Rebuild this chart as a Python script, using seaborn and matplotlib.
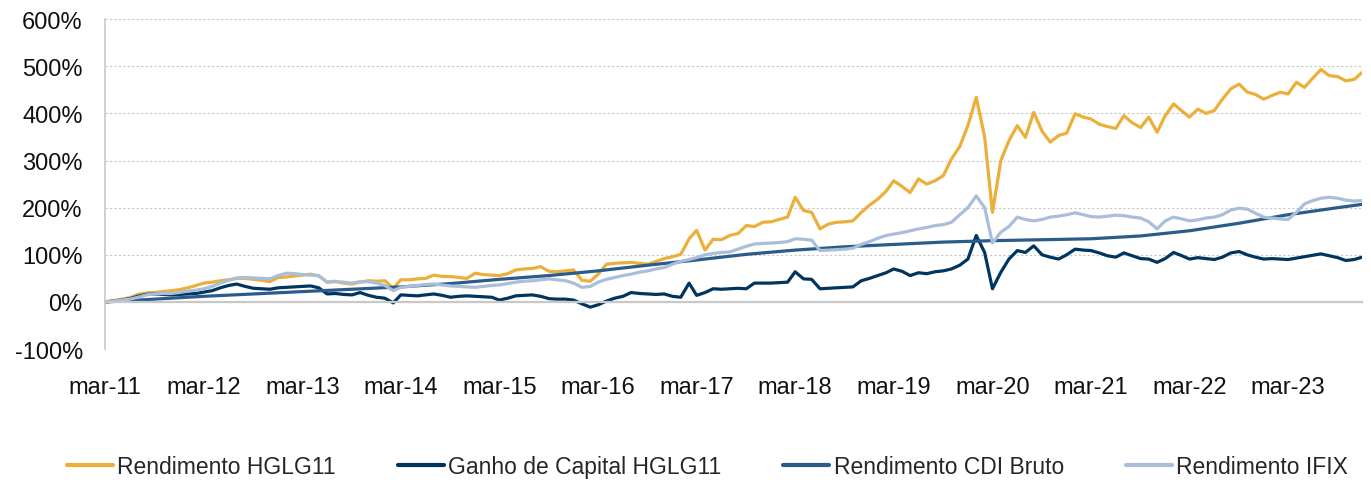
import pandas as pd
import matplotlib.pyplot as plt
import matplotlib.ticker as mticker
import seaborn as sns


# -------------------------------
# Data (monthly, mar-11 .. dez-23), values in %
# -------------------------------

months = pd.date_range("2011-03-01", "2023-12-01", freq="MS")

rend_hglg = [
    0, 3, 6, 9, 16, 19, 20, 22, 24, 26,                      # 2011
    30, 35, 40, 42, 45, 47, 50, 50, 48, 46, 43, 52,          # 2012
    53, 55, 57, 59, 55, 42, 44, 40, 38, 42, 45, 44,          # 2013
    45, 29, 47, 47, 49, 50, 57, 54, 54, 52, 50, 61,          # 2014
    58, 57, 56, 60, 68, 70, 71, 75, 65, 64, 66, 68,          # 2015
    46, 44, 59, 80, 82, 83, 84, 82, 80, 86, 92, 96,          # 2016
    101, 134, 152, 110, 133, 132, 141, 145, 162, 160, 169, 170,  # 2017
    175, 180, 222, 194, 190, 155, 165, 169, 170, 172, 190, 205,  # 2018
    218, 235, 257, 245, 232, 261, 250, 257, 268, 303, 330, 374,  # 2019
    434, 350, 190, 300, 342, 374, 349, 402, 362, 339, 353, 358,  # 2020
    399, 392, 388, 377, 372, 368, 395, 380, 370, 392, 360, 395,  # 2021
    420, 405, 392, 409, 400, 406, 430, 452, 462, 445, 440, 430,  # 2022
    438, 445, 441, 466, 455, 475, 493, 480, 478, 469, 472, 487,  # 2023
]

ganho_hglg = [
    0, 2, 4, 7, 12, 16, 17, 16, 15, 16,
    17, 18, 21, 24, 30, 35, 38, 33, 29, 28, 27, 30,
    31, 32, 33, 34, 30, 17, 18, 16, 15, 20, 14, 10,
    8, -2, 15, 14, 13, 15, 17, 14, 10, 12, 13, 12,
    11, 10, 4, 8, 13, 14, 15, 12, 7, 6, 6, 4,
    -4, -11, -6, 2, 8, 12, 20, 18, 17, 16, 17, 12,
    10, 40, 14, 20, 28, 27, 28, 29, 28, 40, 40, 40,
    41, 42, 64, 49, 48, 28, 29, 30, 31, 32, 45, 50,
    56, 62, 70, 65, 56, 62, 60, 64, 66, 70, 78, 91,
    141, 105, 28, 63, 91, 109, 105, 119, 100, 95, 91, 100,
    112, 110, 109, 104, 98, 95, 104, 98, 92, 91, 84, 92,
    105, 98, 91, 94, 92, 90, 95, 104, 107, 100, 95, 91,
    92, 91, 90, 93, 96, 99, 102, 98, 94, 88, 90, 95,
]

rend_ifix = [
    0, 2, 4, 6, 10, 15, 17, 18, 18, 20,
    23, 25, 28, 33, 40, 46, 51, 52, 51, 50, 49, 56,
    61, 60, 58, 57, 56, 42, 43, 42, 40, 43, 43, 40,
    35, 24, 31, 33, 35, 37, 38, 36, 34, 33, 32, 31,
    33, 35, 36, 39, 42, 44, 45, 47, 49, 47, 45, 40,
    31, 33, 42, 48, 52, 56, 59, 63, 66, 70, 73, 80,
    86, 90, 94, 100, 103, 105, 106, 112, 118, 123, 124, 125,
    126, 128, 134, 133, 131, 109, 110, 111, 112, 114, 122, 128,
    135, 141, 144, 147, 151, 155, 158, 162, 164, 169, 185, 200,
    225, 200, 125, 148, 160, 180, 175, 172, 175, 180, 182, 185,
    189, 185, 181, 180, 182, 184, 183, 180, 178, 170, 155, 172,
    180, 176, 172, 174, 178, 180, 185, 195, 199, 197, 188, 180,
    178, 176, 175, 190, 208, 215, 220, 222, 220, 216, 214, 215,
]

cdi_dates = pd.to_datetime([
    "2011-03-01", "2011-09-01", "2012-03-01", "2012-09-01", "2013-03-01",
    "2013-09-01", "2014-03-01", "2014-09-01", "2015-03-01", "2015-09-01",
    "2016-03-01", "2016-09-01", "2017-03-01", "2017-09-01", "2018-03-01",
    "2018-09-01", "2019-03-01", "2019-09-01", "2020-03-01", "2020-09-01",
    "2021-03-01", "2021-09-01", "2022-03-01", "2022-09-01", "2023-03-01",
    "2023-09-01", "2023-12-01",
])
rend_cdi = [
    0, 6, 12, 17, 22, 27, 32, 39, 48, 56,
    66, 78, 89, 101, 110, 117, 122, 127, 130, 132,
    134, 140, 151, 167, 185, 200, 207,
]

series_names = [
    "Rendimento HGLG11",
    "Ganho de Capital HGLG11",
    "Rendimento CDI Bruto",
    "Rendimento IFIX",
]
colors = ["#EBAF3A", "#00355F", "#2B5B8B", "#A9BEDA"]

tick_years = list(range(2011, 2024))
tick_labels = [f"mar-{y % 100:02d}" for y in tick_years]


# -------------------------------
# Long-form table
# -------------------------------

df = pd.concat([
    pd.DataFrame({"data": months, "valor": rend_hglg, "serie": series_names[0]}),
    pd.DataFrame({"data": months, "valor": ganho_hglg, "serie": series_names[1]}),
    pd.DataFrame({"data": cdi_dates, "valor": rend_cdi, "serie": series_names[2]}),
    pd.DataFrame({"data": months, "valor": rend_ifix, "serie": series_names[3]}),
])


# -------------------------------
# Plot
# -------------------------------

sns.set_style("white")
plt.rcParams["font.family"] = ["Liberation Sans", "DejaVu Sans"]

fig = plt.figure(figsize=(13.71, 4.89), dpi=100)
ax = fig.add_axes([0.0766, 0.284, 0.917, 0.675])

sns.lineplot(
    data=df,
    x="data",
    y="valor",
    hue="serie",
    hue_order=series_names,
    palette=dict(zip(series_names, colors)),
    linewidth=2.3,
    ax=ax
)

ax.set_ylim(-100, 600)
ax.set_xlim(months[0], months[-1])
ax.set_yticks(range(-100, 601, 100))
ax.yaxis.set_major_formatter(mticker.FuncFormatter(lambda v, p: f"{int(v)}%"))

ax.set_xticks(pd.to_datetime([f"{y}-03-01" for y in tick_years]))
ax.set_xticklabels(tick_labels)

ax.set_xlabel("")
ax.set_ylabel("")

ax.grid(axis="y", color="#C8C8C8", linestyle=(0, (2, 2)), linewidth=0.8)
ax.set_axisbelow(True)

for side in ["top", "right"]:
    ax.spines[side].set_visible(False)
ax.spines["left"].set_color("#C8C8C8")
ax.spines["left"].set_linewidth(1.2)
ax.spines["bottom"].set_position(("data", 0))
ax.spines["bottom"].set_color("#C8C8C8")
ax.spines["bottom"].set_linewidth(1.6)

ax.tick_params(axis="x", direction="out", length=6, width=1.2,
               color="#C8C8C8", pad=47, labelsize=17, labelcolor="#111111")
ax.tick_params(axis="y", direction="out", length=6, width=1.2,
               color="#C8C8C8", pad=10, labelsize=17, labelcolor="#111111")

handles, labels = ax.get_legend_handles_labels()
ax.get_legend().remove()
for h in handles:
    h.set_linewidth(3)

fig.legend(
    handles,
    labels,
    loc="center",
    bbox_to_anchor=(0.516, 0.043),
    ncol=4,
    frameon=False,
    fontsize=16.5,
    handlelength=2.0,
    handletextpad=0.2,
    columnspacing=2.7
)

plt.savefig("out.png", dpi=100)
plt.close()
